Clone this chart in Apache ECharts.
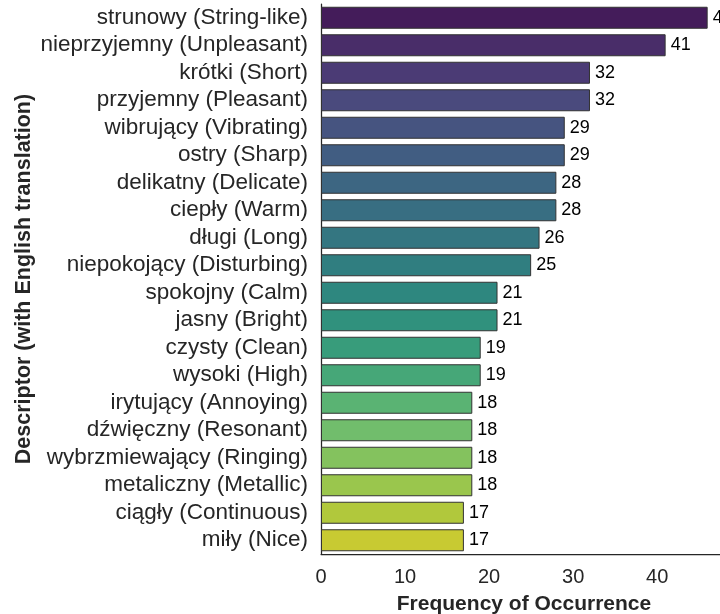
<!DOCTYPE html>
<html>
<head>
<meta charset="utf-8">
<script src="https://cdn.jsdelivr.net/npm/echarts@6/dist/echarts.min.js"></script>
<style>html,body{margin:0;padding:0;background:#fff}#c{width:720px;height:614px}</style>
</head>
<body>
<div id="c"></div>
<script>
const categories = [
  "strunowy (String-like)", "nieprzyjemny (Unpleasant)", "krótki (Short)", "przyjemny (Pleasant)",
  "wibrujący (Vibrating)", "ostry (Sharp)", "delikatny (Delicate)", "ciepły (Warm)",
  "długi (Long)", "niepokojący (Disturbing)", "spokojny (Calm)", "jasny (Bright)",
  "czysty (Clean)", "wysoki (High)", "irytujący (Annoying)", "dźwięczny (Resonant)",
  "wybrzmiewający (Ringing)", "metaliczny (Metallic)", "ciągły (Continuous)", "miły (Nice)"
];
const counts = [46, 41, 32, 32, 29, 29, 28, 28, 26, 25, 21, 21, 19, 19, 18, 18, 18, 18, 17, 17];
const xTicks = [0, 10, 20, 30, 40];

// viridis colormap stops (0..1 step 0.05)
const viridisStops = ["#440154","#471365","#482475","#463480","#414487","#3b528b","#355f8d","#2f6c8e","#2a788e","#25848e","#21918c","#1e9c89","#22a884","#2fb47c","#44bf70","#5ec962","#7ad151","#9bd93c","#bddf26","#dfe318","#fde725"];
function hex2rgb(h){return [parseInt(h.substr(1,2),16),parseInt(h.substr(3,2),16),parseInt(h.substr(5,2),16)];}
function viridis(t){
  const p = t*20, i = Math.min(19, Math.floor(p)), f = p - i;
  const a = hex2rgb(viridisStops[i]), b = hex2rgb(viridisStops[i+1]);
  return a.map((v,k)=>v+(b[k]-v)*f);
}
function desat(rgb, prop){
  let [r,g,b] = rgb.map(v=>v/255);
  const mx=Math.max(r,g,b), mn=Math.min(r,g,b), l=(mx+mn)/2;
  if (mx===mn) return rgb;
  const d=mx-mn;
  let s = l<0.5 ? d/(mx+mn) : d/(2-mx-mn);
  let h;
  if (mx===r) h=((g-b)/d)%6; else if (mx===g) h=(b-r)/d+2; else h=(r-g)/d+4;
  h/=6; if(h<0)h+=1;
  s*=prop;
  const q = l<0.5 ? l*(1+s) : l+s-l*s, pp = 2*l-q;
  function hue(t){ if(t<0)t+=1; if(t>1)t-=1; if(t<1/6)return pp+(q-pp)*6*t; if(t<1/2)return q; if(t<2/3)return pp+(q-pp)*(2/3-t)*6; return pp;}
  return [hue(h+1/3),hue(h),hue(h-1/3)].map(v=>Math.round(v*255));
}
const n = categories.length;
const colors = categories.map((_,i)=>{
  const c = desat(viridis((i+1)/(n+1)), 0.75);
  return 'rgb('+c.join(',')+')';
});

const chart = echarts.init(document.getElementById('c'), null, {renderer:'canvas'});
chart.setOption({
  animation:false,
  grid:{left:321, right:-7, top:4, bottom:60, containLabel:false, outerBoundsMode:'none'},
  xAxis:{
    type:'value', min:0, max:48.3, interval:10,
    name:'Frequency of Occurrence', nameLocation:'middle', nameGap:40,
    nameTextStyle:{fontFamily:'Liberation Sans', fontWeight:'bold', fontSize:21, color:'#262626'},
    axisLine:{show:true, lineStyle:{color:'#262626', width:1.25}},
    axisTick:{show:false},
    splitLine:{show:false},
    axisLabel:{fontFamily:'Liberation Sans', fontSize:20, color:'#262626', margin:13, showMaxLabel:false,
      formatter:v=> xTicks.indexOf(v)>=0 ? String(v) : ''}
  },
  yAxis:{
    type:'category', data:categories, inverse:true,
    name:'Descriptor (with English translation)', nameLocation:'middle', nameGap:286, nameRotate:90,
    nameMoveOverlap:false,
    nameTextStyle:{fontFamily:'Liberation Sans', fontWeight:'bold', fontSize:21.5, color:'#262626'},
    axisLine:{show:true, lineStyle:{color:'#262626', width:1.25}},
    axisTick:{show:false},
    axisLabel:{interval:0, fontFamily:'Liberation Sans', fontSize:22.5, color:'#262626', margin:13}
  },
  series:[{
    type:'bar', barCategoryGap:'20%',
    data:counts.map((v,i)=>({value:v, itemStyle:{color:colors[i]}})),
    itemStyle:{borderColor:'#333', borderWidth:1},
    label:{show:true, position:'right', distance:5, fontFamily:'Liberation Sans', fontSize:18, color:'#000'}
  }]
});
</script>
</body>
</html>
